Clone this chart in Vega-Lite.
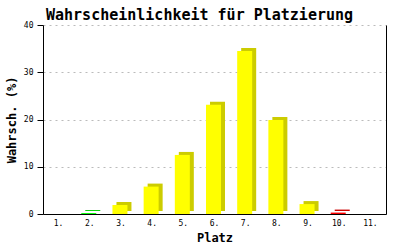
{
  "$schema": "https://vega.github.io/schema/vega-lite/v6.json",
  "autosize": {"type": "none"},
  "width": 343,
  "height": 189,
  "padding": {"left": 43, "top": 25, "right": 14, "bottom": 36},
  "background": "white",
  "title": {
    "text": "Wahrscheinlichkeit für Platzierung",
    "font": "DejaVu Sans Mono",
    "fontSize": 15,
    "fontWeight": "bold",
    "color": "black",
    "anchor": "middle",
    "align": "center",
    "frame": "group",
    "baseline": "bottom",
    "offset": 4,
    "dx": -15,
    "dy": 21
  },
  "config": {
    "view": {"stroke": null},
    "axis": {
      "labelFont": "DejaVu Sans Mono",
      "labelFontSize": 8,
      "labelColor": "black",
      "titleFont": "DejaVu Sans Mono",
      "titleFontSize": 12,
      "titleFontWeight": "bold",
      "titleColor": "black",
      "domainColor": "black",
      "domainWidth": 1,
      "tickColor": "black"
    }
  },
  "data": {
    "values": [
      {"platz": "1.", "wert": 0, "gruppe": "normal"},
      {"platz": "2.", "wert": 0.2, "gruppe": "gruen"},
      {"platz": "3.", "wert": 1.9, "gruppe": "normal"},
      {"platz": "4.", "wert": 5.8, "gruppe": "normal"},
      {"platz": "5.", "wert": 12.5, "gruppe": "normal"},
      {"platz": "6.", "wert": 23.1, "gruppe": "normal"},
      {"platz": "7.", "wert": 34.5, "gruppe": "normal"},
      {"platz": "8.", "wert": 19.9, "gruppe": "normal"},
      {"platz": "9.", "wert": 2.1, "gruppe": "normal"},
      {"platz": "10.", "wert": 0.3, "gruppe": "rot"},
      {"platz": "11.", "wert": 0, "gruppe": "normal"}
    ]
  },
  "encoding": {
    "x": {
      "field": "platz",
      "type": "ordinal",
      "sort": null,
      "scale": {"domain": ["1.","2.","3.","4.","5.","6.","7.","8.","9.","10.","11."], "paddingInner": 0, "paddingOuter": 0},
      "axis": {"title": "Platz", "labelAngle": 0, "ticks": false, "labelPadding": 5, "titlePadding": 5, "grid": false}
    }
  },
  "layer": [
    {
      "transform": [{"filter": "datum.wert > 0"}],
      "mark": {"type": "bar", "width": 15, "xOffset": 3, "yOffset": -3, "y2Offset": 0},
      "encoding": {
        "y": {
          "field": "wert",
          "type": "quantitative",
          "scale": {"domain": [0, 40], "nice": false},
          "axis": {
            "title": "Wahrsch. (%)",
            "values": [0, 10, 20, 30, 40],
            "tickSize": 6,
            "labelPadding": 4,
            "titlePadding": 5,
            "grid": true,
            "gridColor": "#bbbbbb",
            "gridDash": [2, 4],
            "gridWidth": 1
          }
        },
        "color": {
          "field": "gruppe",
          "type": "nominal",
          "scale": {"domain": ["normal", "gruen", "rot"], "range": ["#cccc00", "#00cc00", "#cc0000"]},
          "legend": null
        }
      }
    },
    {
      "transform": [{"filter": "datum.wert > 0"}],
      "mark": {"type": "bar", "width": 15, "xOffset": -1},
      "encoding": {
        "y": {"field": "wert", "type": "quantitative", "axis": null},
        "color": {
          "field": "gruppe",
          "type": "nominal",
          "scale": {"domain": ["normal", "gruen", "rot"], "range": ["#ffff00", "#00ff00", "#ff0000"]},
          "legend": null
        }
      }
    },
    {
      "mark": {"type": "rule", "opacity": 0},
      "encoding": {
        "y": {
          "field": "wert",
          "type": "quantitative",
          "axis": {"orient": "right", "labels": false, "ticks": false, "grid": false, "title": null, "domainColor": "black"}
        }
      }
    }
  ],
  "resolve": {"scale": {"color": "independent"}, "axis": {"y": "independent"}}
}
